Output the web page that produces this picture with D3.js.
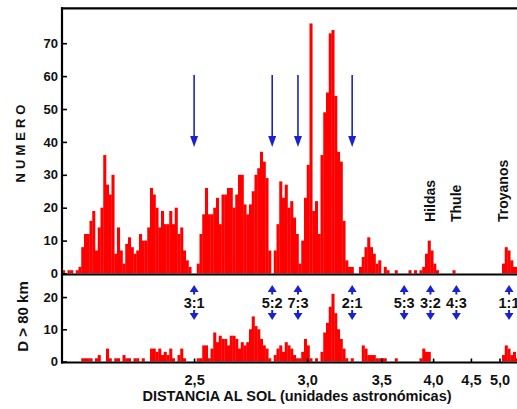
<!DOCTYPE html>
<html><head><meta charset="utf-8">
<script src="https://cdn.jsdelivr.net/npm/d3@7"></script>
<style>
body{margin:0;background:#fff}
svg{display:block}
text{font-family:"Liberation Sans",Arial,sans-serif;font-weight:bold;fill:#111}
</style>
</head><body><svg id="c" width="517" height="409"></svg>
<script>
// Number of asteroids per bin (all asteroids)
const topCounts = [
 1,0,1,1,0,1,2,8,12,12,
 16,19,7,14,20,36,27,24,30,6,
 14,7,3,9,11,8,6,7,12,10,
 10,14,26,24,20,14,19,15,15,19,
 15,20,12,14,7,4,2,0,0,3,
 12,18,26,18,18,20,23,15,24,24,
 26,26,20,24,30,30,21,18,21,25,
 30,32,37,34,29,7,0,7,15,28,
 23,27,20,22,17,12,3,10,23,33,
 76,19,22,12,36,49,55,73,74,54,
 37,34,16,4,2,2,0,0,2,5,
 8,11,8,6,3,4,0,2,1,0,
 0,1,0,0,0,0,1,0,1,0,
 1,2,6,10,7,3,1,0,0,0,
 0,0,1,0,0,0,0,0,0,0,
 0,0,0,0,0,0,0,0,0,0,
 3,8,7,4,2,2
];
// Number of asteroids per bin with D > 80 km
const bottomCounts = [
 0,0,0,0,0,0,0,1,1,1,
 1,0,1,2,0,0,4,1,0,1,
 1,0,2,1,1,0,1,1,0,1,
 0,0,4,4,3,4,2,3,2,4,
 1,0,2,4,1,0,0,0,0,1,
 1,5,5,1,4,9,6,8,7,7,
 5,8,8,7,4,6,5,6,10,14,
 11,10,7,5,4,1,0,2,4,5,
 3,6,5,4,2,1,1,3,7,5,
 1,0,1,0,3,9,12,17,21,15,
 10,7,4,1,0,1,0,0,0,5,
 4,2,2,2,1,1,1,1,0,0,
 0,1,0,0,0,0,0,0,0,0,
 1,4,3,3,0,0,0,0,0,0,
 0,0,0,0,0,0,0,0,0,0,
 0,0,0,0,0,0,0,0,0,0,
 2,5,4,2,3,1
];
// bins are uniform in mean motion (a^-1.5)
const binStartAU = 2.121;
const binStepMeanMotion = 0.0014727;
const axisDomainAU = [2.121, 5.383];
const xTicksAU = [2.5, 3.0, 3.5, 4.0, 4.5, 5.0];
const topTicks = [0, 10, 20, 30, 40, 50, 60, 70];
const bottomTicks = [0, 10, 20];
const resonanceLabels = ["3:1", "5:2", "7:3", "2:1", "5:3", "3:2", "4:3", "1:1"];
const resonanceAU = [2.50, 2.82, 2.95, 3.28, 3.70, 3.97, 4.29, 5.20];
const arrowResonances = ["3:1", "5:2", "7:3", "2:1"];
const groupLabels = ["Hildas", "Thule", "Troyanos"];
const groupAU = [3.97, 4.29, 5.07];

const svg = d3.select("#c");
const x = d3.scalePow().exponent(-1.5).domain(axisDomainAU).range([62, 517]);
const yTop = d3.scaleLinear().domain([0, 80.7]).range([273.5, 8]);
const yBot = d3.scaleLinear().domain([0, 27]).range([361.5, 274.5]);
const red = "#ff0000", blue = "#1a22d0";

const n0 = Math.pow(binStartAU, -1.5);
const edge = i => Math.pow(n0 - i * binStepMeanMotion, -2 / 3);

function bars(data, y) {
  svg.append("g").selectAll("rect").data(data).join("rect")
    .attr("x", (d, i) => x(edge(i)))
    .attr("width", (d, i) => x(edge(i + 1)) - x(edge(i)) + 0.3)
    .attr("y", d => y(d))
    .attr("height", d => y(0) - y(d))
    .attr("fill", red);
}
bars(topCounts, yTop);
bars(bottomCounts, yBot);

// frame
const frame = svg.append("g").attr("stroke", "#000").attr("stroke-width", 2.2);
frame.append("line").attr("x1", 62).attr("x2", 62).attr("y1", 7.2).attr("y2", 363.6);
frame.append("line").attr("x1", 61).attr("x2", 517).attr("y1", yTop.range()[1] + 0.3).attr("y2", yTop.range()[1] + 0.3);
frame.append("line").attr("x1", 61).attr("x2", 517).attr("y1", 274.5).attr("y2", 274.5);
frame.append("line").attr("x1", 61).attr("x2", 517).attr("y1", 362.5).attr("y2", 362.5);

// axes
function styleAxis(g, size) {
  g.select(".domain").remove();
  g.selectAll(".tick line").attr("stroke", "#000").attr("stroke-width", 1.6);
  g.selectAll(".tick text").attr("font-size", size).attr("fill", "#111")
    .attr("font-family", '"Liberation Sans",Arial,sans-serif').attr("font-weight", "bold");
}
svg.append("g").attr("transform", "translate(62,0)")
  .call(d3.axisLeft(yTop).tickValues(topTicks).tickSize(-5).tickPadding(4))
  .call(g => styleAxis(g, 13));
svg.append("g").attr("transform", "translate(62,0)")
  .call(d3.axisLeft(yBot).tickValues(bottomTicks).tickSize(-5).tickPadding(4))
  .call(g => styleAxis(g, 13));
svg.append("g").attr("transform", "translate(0,362.5)")
  .call(d3.axisBottom(x).tickValues(xTicksAU).tickSize(-4).tickPadding(12)
    .tickFormat(d => d.toFixed(1).replace(".", ",")))
  .call(g => styleAxis(g, 14.5));

// titles
svg.append("text").attr("transform", "translate(20,141.5) rotate(-90)")
  .attr("text-anchor", "middle").attr("dy", "0.35em")
  .attr("font-size", 13).attr("letter-spacing", 4).text("NUMERO");
svg.append("text").attr("transform", "translate(23,316.5) rotate(-90)")
  .attr("text-anchor", "middle").attr("dy", "0.35em")
  .attr("font-size", 15).text("D > 80 km");
svg.append("text").attr("x", 297).attr("y", 401)
  .attr("text-anchor", "middle").attr("font-size", 14.5)
  .text("DISTANCIA AL SOL (unidades astronómicas)");

// group labels
groupLabels.forEach((t, i) => {
  svg.append("text").attr("transform", `translate(${x(groupAU[i])},222) rotate(-90)`)
    .attr("text-anchor", "start").attr("dy", "0.36em")
    .attr("font-size", 14).text(t);
});

// top arrows
arrowResonances.forEach(lbl => {
  const a = resonanceAU[resonanceLabels.indexOf(lbl)];
  const cx = x(a);
  svg.append("line").attr("x1", cx).attr("x2", cx).attr("y1", 75).attr("y2", 140)
    .attr("stroke", blue).attr("stroke-width", 1.6);
  svg.append("path").attr("d", `M${cx - 4},136 L${cx + 4},136 L${cx},147 Z`).attr("fill", blue);
});

// resonance markers in lower panel
resonanceLabels.forEach((lbl, i) => {
  const cx = x(resonanceAU[i]);
  const g = svg.append("g");
  g.append("path").attr("d", `M${cx},285 L${cx + 4.5},292 L${cx - 4.5},292 Z`).attr("fill", blue);
  g.append("rect").attr("x", cx - 1).attr("y", 291).attr("width", 2).attr("height", 3.5).attr("fill", blue);
  g.append("rect").attr("x", cx - 1).attr("y", 310).attr("width", 2).attr("height", 3.5).attr("fill", blue);
  g.append("path").attr("d", `M${cx - 4.5},313 L${cx + 4.5},313 L${cx},320 Z`).attr("fill", blue);
  g.append("text").attr("x", cx).attr("y", 307.5).attr("text-anchor", "middle")
    .attr("font-size", 14.5).text(lbl);
});
</script>
</body></html>
